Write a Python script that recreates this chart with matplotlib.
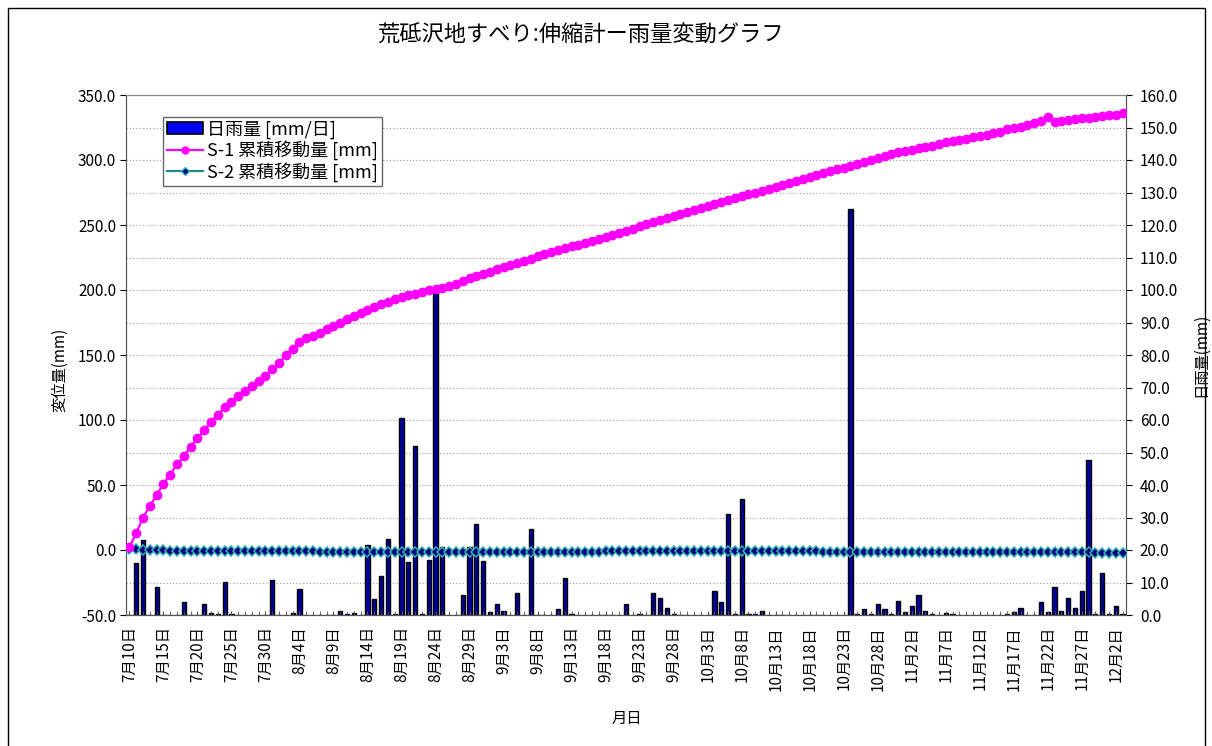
import matplotlib
matplotlib.use("Agg")
import matplotlib.pyplot as plt
import matplotlib.patches as mpatches
from matplotlib.lines import Line2D
from matplotlib.ticker import FuncFormatter
import numpy as np
import pandas as pd

plt.rcParams['font.family'] = ['Noto Sans CJK JP', 'DejaVu Sans']

# daily data, 7/10 .. 12/3
dates = pd.date_range("2008-07-10", periods=147, freq="D")

rain = [
    0, 15.9, 23.0, 0, 8.7, 0, 0, 0, 3.9, 0,
    0, 3.4, 0.7, 0.4, 10.3, 0.4, 0, 0, 0, 0,
    0, 10.8, 0, 0, 0.5, 7.9, 0, 0, 0, 0,
    0, 1.2, 0.4, 0.6, 0, 21.5, 4.9, 12.1, 23.3, 0.4,
    60.5, 16.4, 52.0, 0.4, 16.9, 100.0, 20.8, 0, 0, 6.2,
    20.8, 28.0, 16.7, 0.8, 3.3, 1.3, 0, 6.9, 0, 26.4,
    0, 0, 0, 2.0, 11.3, 0.4, 0, 0, 0, 0,
    0, 0, 0, 3.3, 0, 0.3, 0, 6.9, 5.3, 2.3,
    0.4, 0, 0, 0, 0, 0, 7.4, 3.9, 31.1, 0.3,
    35.8, 0.3, 0.3, 1.3, 0, 0, 0, 0, 0, 0,
    0, 0, 0, 0, 0, 0, 125.0, 0.4, 1.7, 0.3,
    3.3, 2.0, 0.3, 4.3, 0.8, 2.8, 6.2, 1.3, 0.3, 0,
    0.5, 0.3, 0, 0, 0, 0, 0, 0, 0, 0.3,
    0.8, 2.3, 0, 0, 3.9, 0.8, 8.7, 1.3, 5.3, 2.3,
    7.4, 47.7, 0.3, 12.8, 0.3, 2.8, 0.3,
]

s1 = [
    2, 13, 25, 34, 42, 51, 58, 66, 72, 79.5,
    86, 92, 98.5, 104, 110, 114, 118.5, 122.5, 126.5, 130,
    134, 139, 144, 150, 155, 160, 163, 165, 167, 170,
    172.5, 175, 177.5, 180, 182.5, 185, 187, 189, 191, 193,
    195, 196, 197, 198.5, 200, 201, 201.5, 203, 205, 207,
    209, 211, 212.5, 214, 216, 217.5, 219, 221, 222.5, 224,
    226, 227.5, 229, 230.5, 232, 233.5, 235, 236.5, 238, 239.5,
    241, 242.5, 244, 245.5, 247, 249, 250.5, 252, 254, 255.5,
    257, 258.5, 260, 261.5, 263, 264.5, 266, 267.5, 269, 270.5,
    272, 273.5, 275, 276.5, 278, 279.5, 281, 282.5, 284, 285.5,
    287, 288.5, 290, 291.5, 293, 294, 295.5, 297, 298.5, 300,
    301.5, 303, 304.5, 306, 307, 308, 309, 310, 311, 312,
    313.5, 314.5, 315.5, 316.5, 317.5, 318.5, 319.5, 320.5, 321.5, 324,
    324.5, 325.5, 327, 328.5, 330, 332.8, 329.5, 330, 331, 331.5,
    332, 332.5, 333, 333.5, 334.5, 335, 336,
]

s2 = [
    0.8, 0.5, 0.3, 0.0, -0.2, -0.3, -0.4, -0.5, -0.5, -0.6,
    -0.6, -0.7, -0.7, -0.8, -0.8, -0.8, -0.9, -0.9, -0.9, -1.0,
    -1.0, -1.0, -1.0, -1.1, -1.1, -1.0, -1.1, -1.1, -1.2, -1.2,
    -1.2, -1.2, -1.3, -1.3, -1.3, -1.2, -1.3, -1.3, -1.4, -1.4,
    -1.4, -1.4, -1.5, -1.5, -1.5, -1.5, -1.5, -1.6, -1.6, -1.6,
    -1.6, -1.6, -1.6, -1.7, -1.7, -1.7, -1.7, -1.7, -1.7, -1.7,
    -1.6, -1.6, -1.6, -1.5, -1.5, -1.5, -1.4, -1.4, -1.3, -1.2,
    -1.1, -1.0, -0.9, -0.8, -0.6, -0.5, -0.4, -0.4, -0.4, -0.4,
    -0.4, -0.4, -0.5, -0.5, -0.5, -0.5, -0.6, -0.6, -0.6, -0.7,
    -0.7, -0.8, -0.8, -0.8, -0.9, -0.9, -1.0, -1.0, -1.0, -1.1,
    -1.1, -1.1, -1.2, -1.2, -1.2, -1.3, -1.3, -1.3, -1.3, -1.4,
    -1.4, -1.4, -1.4, -1.5, -1.5, -1.5, -1.5, -1.5, -1.6, -1.6,
    -1.6, -1.6, -1.6, -1.7, -1.7, -1.7, -1.7, -1.7, -1.7, -1.8,
    -1.8, -1.8, -1.8, -1.8, -1.8, -1.8, -1.9, -1.9, -1.9, -1.9,
    -1.9, -1.9, -2.0, -2.0, -2.0, -2.0, -2.0,
]

x = np.arange(len(dates))
date_labels = [f"{d.month}月{d.day}日" for d in dates]

fig = plt.figure(figsize=(12.12, 7.46), dpi=100)
fig.patches.append(mpatches.Rectangle((8 / 1212, -0.02), 1197 / 1212, 1 - 8 / 746 + 0.02,
                                      transform=fig.transFigure, fill=False,
                                      edgecolor="black", linewidth=1.0))

ax = fig.add_axes([126 / 1212, 1 - 615 / 746, 1000 / 1212, 520 / 746])
ax2 = ax.twinx()

# rainfall bars on the right axis
ax2.bar(x, rain, width=0.62, color="#00009A", edgecolor="black", linewidth=1.0, zorder=2)
ax2.set_ylim(0, 160)
ax2.set_yticks(np.arange(0, 161, 10))
ax2.yaxis.set_major_formatter(FuncFormatter(lambda v, p: f"{v:.1f}"))
ax2.grid(axis="y", linestyle=(0, (1, 2)), color="#9a9a9a", linewidth=0.8)
ax2.set_axisbelow(True)

ax.set_zorder(ax2.get_zorder() + 1)
ax.patch.set_visible(False)

ax.plot(x, s1, color="#FF00FF", linewidth=1.6, marker="o", markersize=6,
        markerfacecolor="#FF00FF", markeredgecolor="#FF00FF", zorder=4)
ax.plot(x, s2, color="#1E8C8C", linewidth=1.6, marker="D", markersize=5,
        markerfacecolor="#000080", markeredgecolor="#33B0B0", markeredgewidth=1.1, zorder=3)

ax.set_xlim(-0.5, len(dates) - 0.5)
ax.set_ylim(-50, 350)
ax.set_yticks(np.arange(-50, 351, 50))
ax.yaxis.set_major_formatter(FuncFormatter(lambda v, p: f"{v:.1f}"))

ax.set_xticks(x[::5])
ax.set_xticklabels(date_labels[::5], rotation=90, fontsize=11)
ax.set_xticks(x, minor=True)
ax.tick_params(axis="x", which="both", direction="in", length=3, color="#555555", pad=8)
ax.tick_params(axis="y", direction="out", length=4, labelsize=11, pad=3)
ax2.tick_params(axis="y", direction="out", length=4, labelsize=11, pad=6)

for a in (ax, ax2):
    a.spines["top"].set_color("#888888")
    a.spines["left"].set_color("#555555")
    a.spines["right"].set_color("#555555")
    a.spines["bottom"].set_color("#555555")

fig.text(580 / 1212, 1 - 35 / 746, "荒砥沢地すべり:伸縮計ー雨量変動グラフ",
         ha="center", va="center", fontsize=16)
fig.text(60 / 1212, 1 - 370 / 746, "変位量(mm)", rotation=90, ha="center", va="center", fontsize=11)
fig.text(1201 / 1212, 1 - 355 / 746, "日雨量(mm)", rotation=90, ha="center", va="center", fontsize=11)
fig.text(627 / 1212, 1 - 718 / 746, "月日", ha="center", va="center", fontsize=11)

handles = [
    mpatches.Patch(facecolor="#0000FF", edgecolor="black", linewidth=1.2),
    Line2D([], [], color="#FF00FF", linewidth=1.6, marker="o", markersize=5,
           markerfacecolor="#FF00FF", markeredgecolor="#FF00FF"),
    Line2D([], [], color="#1E8C8C", linewidth=1.6, marker="D", markersize=4,
           markerfacecolor="#000080", markeredgecolor="#33B0B0"),
]
labels = ["日雨量 [mm/日]", "S-1 累積移動量 [mm]", "S-2 累積移動量 [mm]"]
leg = ax.legend(handles, labels, loc="upper left", bbox_to_anchor=(0.037, 0.958),
                borderaxespad=0, fontsize=13, handlelength=2.0, handletextpad=0.25,
                labelspacing=0.1, borderpad=0.2, fancybox=False, framealpha=1)
leg.get_frame().set_edgecolor("#666666")
leg.get_frame().set_linewidth(1.0)

fig.savefig("out.png", dpi=100)
